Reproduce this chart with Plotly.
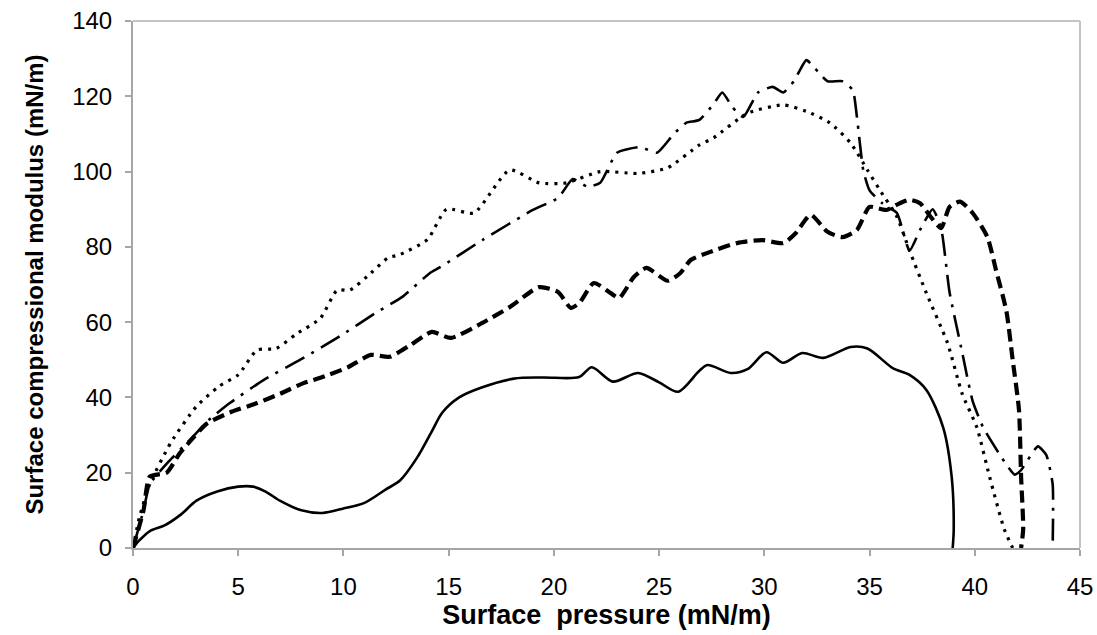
import plotly.graph_objects as go

# Series 1: solid
x_solid = [0, 0.3, 0.8, 1.5, 2.3, 3.0, 4.0, 5.0, 5.7, 6.3, 7.0, 8.0, 9.0, 10.0, 11.0, 12.0, 12.7, 13.5, 14.2, 14.7, 15.5, 16.5,
           18.1, 19.5, 21.2, 21.8, 22.8, 24.0, 25.0, 25.9, 26.9, 27.3, 28.4, 29.2, 30.1, 30.9, 31.8, 32.8, 34.1, 34.9,
           36.1, 36.9, 37.7, 38.5, 38.9, 39.0, 38.95]
y_solid = [0, 2, 4.5, 6, 9, 12.5, 15, 16.3, 16.3, 15, 12.5, 10, 9.3, 10.5, 12, 15.5, 18, 24, 31, 36, 40, 42.5,
           45, 45.3, 45.4, 48, 44.2, 46.5, 44, 41.5, 47, 48.6, 46.5, 47.5, 52, 49.2, 51.8, 50.5, 53.4, 53,
           47.8, 46, 42, 32, 19, 5, 0]

# Series 2: thick dashed
x_dash = [0, 0.5, 0.8, 1.6, 2.2, 2.9, 3.5, 4.6, 5.9, 7.0, 8.1, 9.0, 10.2, 11.3, 12.2, 13.2, 14.2, 15.1, 16.6, 17.9,
          19.3, 20.2, 20.8, 21.2, 21.9, 22.7, 23.1, 23.8, 24.4, 25.4, 26.0, 26.5, 27.3, 28.7, 29.9, 30.9, 31.5,
          32.2, 33.0, 33.7, 34.4, 35.0, 35.8, 36.4, 36.9, 37.4, 37.9, 38.4, 38.8, 39.3, 39.9, 40.6, 41.0, 41.5,
          41.8, 42.1, 42.2, 42.3, 42.2]
y_dash = [0, 10, 19, 20, 25, 29.5, 33, 36, 38.5, 41, 43.8, 45.4, 48, 51.3, 50.8, 54, 57.4, 55.8, 59.8, 64,
          69.3, 68, 63.8, 65, 70.4, 67.7, 66.4, 72, 74.4, 71, 73, 76.5, 78.4, 81, 81.8, 81, 83.7,
          88.5, 84, 82.6, 84.5, 90.6, 89.8, 91.5, 92.5, 91.6, 88, 85, 90.6, 92, 89, 82.6, 74, 63,
          50, 36.7, 19, 5, 0]

# Series 3: dash-dot
x_dashdot = [0, 0.5, 0.8, 1.7, 2.7, 3.6, 4.6, 6.2, 8.1, 9.7, 11.6, 12.8, 14.1, 14.6, 16.6, 19.0, 20.2, 20.9, 21.6,
             22.2, 23.0, 24.1, 24.9, 25.7, 26.3, 26.9, 27.6, 28.0, 28.5, 29.0, 29.7, 30.4, 30.9, 31.4, 31.7, 32.0,
             33.0, 33.7, 34.2, 34.4, 34.7, 35.0, 35.6, 36.3, 36.9, 37.4, 38.0, 38.4, 38.8, 39.4, 39.9, 40.4, 41.4,
             41.9, 42.2, 43.0, 43.4, 43.7, 43.7]
y_dashdot = [0, 10, 17, 23, 28.7, 34, 38.5, 44.6, 50.5, 55.8, 62.7, 66.7, 73, 74.6, 81.8, 89.8, 93, 98, 96,
             97, 105, 106.5, 105, 110, 113, 113.7, 118, 121, 117, 114.5, 121, 122.5, 121, 124, 127, 129.6,
             124, 124, 121.7, 114.5, 100.4, 95, 91.6, 89, 79, 84.5, 90, 85, 68, 52, 39, 32, 23,
             19.5, 20.7, 27, 24.7, 17, 0]

# Series 4: dotted
x_dot = [0, 0.3, 0.8, 1.8, 3.0, 4.1, 5.0, 5.9, 6.8, 7.8, 8.9, 9.7, 10.3, 11.3, 12.1, 12.7, 14.0, 14.9, 16.2,
         17.9, 19.3, 20.6, 22.2, 24.0, 25.4, 26.9, 27.6, 29.2, 30.9, 32.0, 33.1, 34.1, 34.9, 35.5, 36.3, 36.9,
         37.7, 38.7, 39.4, 40.1, 40.7, 41.4, 41.8]
y_dot = [0, 8, 17, 28, 37.5, 43, 46, 52.6, 53, 57, 61, 68.5, 68.5, 73, 77, 78, 82, 90, 89,
         100.4, 97, 97, 100, 99.5, 101, 107, 109, 115.5, 117.7, 116, 113, 107.6, 100.4, 95, 88, 79,
         67.7, 54.5, 41, 32, 19, 5, 0]

x_ticks = [0, 5, 10, 15, 20, 25, 30, 35, 40, 45]
y_ticks = [0, 20, 40, 60, 80, 100, 120, 140]

fig = go.Figure()
fig.add_trace(go.Scatter(x=x_solid, y=y_solid, mode="lines",
                         line=dict(color="black", width=2.6, shape="spline", smoothing=0.8)))
fig.add_trace(go.Scatter(x=x_dash, y=y_dash, mode="lines",
                         line=dict(color="black", width=4.2, dash="12px,6px", shape="spline", smoothing=0.6)))
fig.add_trace(go.Scatter(x=x_dashdot, y=y_dashdot, mode="lines",
                         line=dict(color="black", width=2.6, dash="22px,8px,3px,8px", shape="spline", smoothing=0.5)))
fig.add_trace(go.Scatter(x=x_dot, y=y_dot, mode="lines",
                         line=dict(color="black", width=3.2, dash="3px,6px", shape="spline", smoothing=0.6)))

axis_common = dict(showline=True, linecolor="#A6A6A6", linewidth=2, mirror=False, showgrid=False,
                   zeroline=False, ticks="outside", ticklen=6, tickcolor="#A6A6A6", tickwidth=2,
                   automargin=False)

# light top/right frame of the plot area
fig.add_shape(type="line", xref="paper", yref="paper", x0=0, x1=1, y0=1, y1=1,
              line=dict(color="#C4C4C4", width=2), layer="below")
fig.add_shape(type="line", xref="paper", yref="paper", x0=1, x1=1, y0=0, y1=1,
              line=dict(color="#C4C4C4", width=2), layer="below")

fig.update_layout(
    width=1097, height=635,
    margin=dict(l=133, r=17, t=21, b=87),
    paper_bgcolor="white", plot_bgcolor="white",
    showlegend=False,
    font=dict(family="Liberation Sans, Arial, sans-serif", color="black"),
    xaxis=dict(range=[0, 45], tickvals=x_ticks, ticktext=[str(v) for v in x_ticks],
               tickfont=dict(size=24), ticklabelstandoff=10,
               title=dict(text="<b>Surface  pressure (mN/m)</b>", font=dict(size=27), standoff=6),
               **axis_common),
    yaxis=dict(range=[0, 140], tickvals=y_ticks, ticktext=[str(v) for v in y_ticks],
               tickfont=dict(size=24), ticklabelstandoff=8,
               title=dict(text="<b>Surface compressional modulus (mN/m)</b>", font=dict(size=24), standoff=22),
               **axis_common),
)

fig.write_html("out.html", config={"displayModeBar": False},
               post_script="document.body.style.margin='0';")
